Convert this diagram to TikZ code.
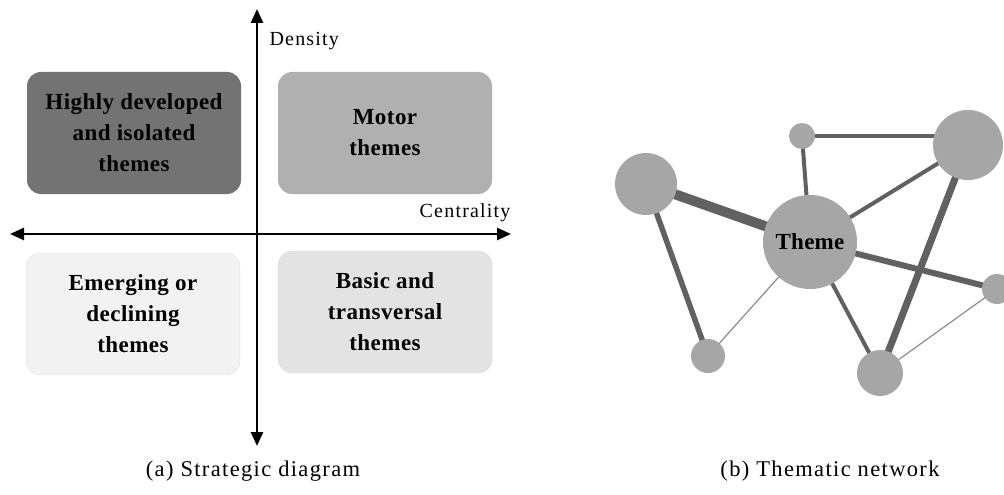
\documentclass[tikz,border=0pt]{standalone}
\usepackage{fontspec}
\setmainfont{Liberation Serif}
\usetikzlibrary{arrows.meta,backgrounds}
\begin{document}
\begin{tikzpicture}[x=1pt,y=-1pt,
  quad/.style={rounded corners=14pt, minimum width=214pt, minimum height=122pt, align=center, font=\fontsize{23}{31}\selectfont\bfseries\addfontfeature{LetterSpace=2}},
  axis/.style={line width=2.5pt, -{Triangle[length=14pt,width=12pt]}},
  nd/.style={circle, fill=black!35, inner sep=0pt},
  ed/.style={draw=black!62, line cap=butt},
  lbl/.style={font=\fontsize{20}{22}\selectfont\addfontfeature{LetterSpace=6}},
  captxt/.style={font=\fontsize{22.5}{24}\selectfont\addfontfeature{LetterSpace=6}}
]
\useasboundingbox (0,0) rectangle (1004,495);
% quadrant boxes
\node[quad, fill=black!55] (hd) at (134,133) {Highly developed\\and isolated\\themes};
\node[quad, fill=black!31] (mt) at (385,133) {Motor\\themes};
\node[quad, fill=black!5, draw=black!12] (em) at (133,314) {Emerging or\\declining\\themes};
\node[quad, fill=black!11, draw=black!14] (bt) at (385,312) {Basic and\\transversal\\themes};
% axes
\coordinate (ctr) at (257,234);
\coordinate (vt) at (257,9);
\coordinate (vb) at (257,446);
\coordinate (hl) at (10,234);
\coordinate (hr) at (511,234);
\draw[axis] (ctr) -- (vt);
\draw[axis] (ctr) -- (vb);
\draw[axis] (ctr) -- (hl);
\draw[axis] (ctr) -- (hr);
\node[lbl, anchor=west] (dens) at (266,41) {Density};
\node[lbl, anchor=east] (cent) at (514,213) {Centrality};
\node[captxt] (capa) at (253,471) {(a) Strategic diagram};
\node[captxt] (capb) at (830,471) {(b) Thematic network};
% network nodes
\node[nd, minimum size=94pt, font=\fontsize{23}{24}\selectfont\bfseries\addfontfeature{LetterSpace=1}] (th) at (810,242) {Theme};
\node[nd, minimum size=62pt] (lb) at (646,184) {};
\node[nd, minimum size=26pt] (ts) at (802,136) {};
\node[nd, minimum size=70pt] (tr) at (968,145) {};
\node[nd, minimum size=30pt] (rs) at (997,289) {};
\node[nd, minimum size=34pt] (bl) at (708,356) {};
\node[nd, minimum size=46pt] (br) at (880,373) {};
% edges
\begin{scope}[on background layer]
\draw[ed, line width=10pt] (lb.center) -- (th.center);
\draw[ed, line width=5.5pt] (lb.center) -- (bl.center);
\draw[ed, draw=black!45, line width=1.2pt] (th.center) -- (bl.center);
\draw[ed, line width=4pt] (th.center) -- (ts.center);
\draw[ed, line width=4pt] (ts.center) -- (tr.center |- ts.center);
\draw[ed, line width=4pt] (th.center) -- (tr.center);
\draw[ed, line width=7pt] (tr.center) -- (br.center);
\draw[ed, line width=6pt] (th.center) -- (rs.center);
\draw[ed, line width=4pt] (th.center) -- (br.center);
\draw[ed, draw=black!45, line width=1.2pt] (br.center) -- (rs.center);
\end{scope}
\end{tikzpicture}
\end{document}
